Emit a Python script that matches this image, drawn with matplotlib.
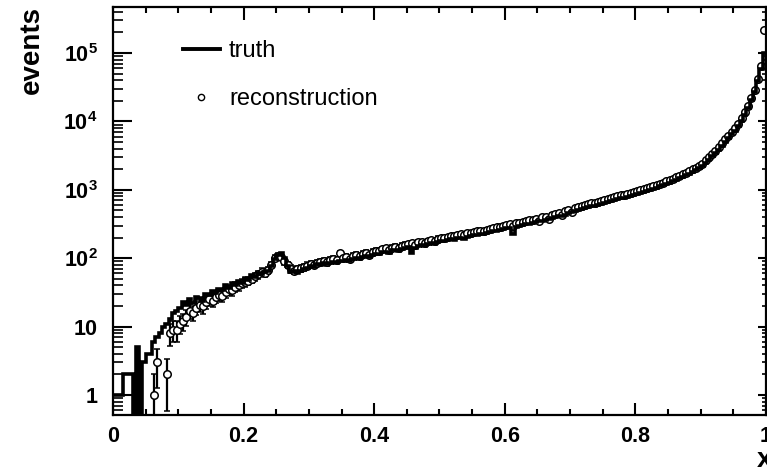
import numpy as np
import matplotlib
matplotlib.use('Agg')
import matplotlib.pyplot as plt
from matplotlib.lines import Line2D
from matplotlib.ticker import FixedLocator, MultipleLocator, LogLocator, NullFormatter

plt.rcParams['font.family'] = ['Liberation Sans', 'DejaVu Sans']
plt.rcParams['mathtext.fontset'] = 'custom'
plt.rcParams['mathtext.rm'] = 'Liberation Sans'
plt.rcParams['mathtext.bf'] = 'Liberation Sans:bold'

# 200 bins in x from 0 to 1
edges = np.linspace(0, 1, 201)

truth = [
    1, 1, 1, 2, 2, 2, 0, 5, 0, 3, 4, 4, 6, 7, 8, 10, 11, 13, 16, 17,
    19, 23, 21, 25, 22, 27, 26, 24, 30, 29, 33, 31, 36, 34, 40, 37, 43, 41, 46, 44,
    52, 48, 56, 53, 60, 58, 62, 64, 76, 96, 112, 118, 100, 78, 62, 66, 60, 64, 70, 72,
    78, 74, 82, 79, 86, 82, 85, 88, 86, 90, 92, 95, 90, 98, 101, 97, 105, 108, 104, 112,
    117, 114, 122, 125, 119, 130, 133, 128, 138, 142, 144, 118, 143, 153, 158, 152, 162, 167, 161, 175,
    180, 176, 185, 190, 186, 197, 200, 194, 206, 210, 215, 220, 226, 222, 235, 241, 246, 252, 258, 265,
    274, 279, 224, 288, 295, 302, 311, 318, 326, 335, 345, 354, 364, 374, 386, 397, 408, 420, 434, 452,
    470, 487, 505, 521, 539, 555, 573, 589, 607, 624, 643, 661, 681, 701, 724, 746, 770, 795, 822, 850,
    880, 909, 937, 966, 1003, 1039, 1079, 1117, 1164, 1211, 1268, 1325, 1391, 1466, 1542, 1627, 1721, 1825, 1939, 2062,
    2220, 2460, 2740, 3070, 3450, 3880, 4400, 5020, 5700, 6450, 7350, 8600, 10300, 12600, 15800, 20200, 27000, 38500, 58000, 100000,
]

reco = [
    0, 0, 0, 0, 0, 0, 0, 0, 0, 0, 0, 0, 1, 3, 0, 0, 2, 8, 9, 9,
    11, 12, 14, 17, 16, 19, 21, 20, 23, 25, 24, 27, 29, 28, 32, 35, 34, 38, 40, 43,
    45, 47, 50, 54, 58, 63, 61, 67, 80, 100, 108, 104, 90, 80, 70, 66, 69, 72, 74, 78,
    82, 80, 86, 88, 92, 87, 95, 98, 94, 118, 100, 104, 98, 108, 112, 106, 116, 120, 113, 124,
    128, 126, 135, 140, 132, 143, 147, 140, 153, 158, 160, 164, 158, 170, 174, 168, 180, 186, 178, 194,
    200, 196, 206, 212, 208, 220, 224, 216, 230, 236, 240, 246, 252, 248, 262, 270, 276, 282, 290, 296,
    305, 312, 300, 322, 330, 338, 346, 356, 364, 374, 350, 395, 406, 370, 430, 442, 455, 430, 485, 505,
    470, 540, 560, 580, 600, 615, 635, 650, 672, 690, 710, 730, 752, 775, 800, 825, 850, 878, 905, 935,
    965, 998, 1030, 1062, 1100, 1140, 1182, 1225, 1275, 1325, 1385, 1445, 1520, 1600, 1685, 1775, 1880, 1990, 2110, 2245,
    2420, 2680, 2980, 3340, 3750, 4220, 4780, 5450, 6200, 7000, 7950, 9300, 11200, 13700, 17000, 22000, 29000, 42000, 65000, 220000,
]

ytick_vals = [1, 10, 100, 1000, 10000, 100000]
ytick_labels = ['1', '10', r'$\mathbf{10^{2}}$', r'$\mathbf{10^{3}}$', r'$\mathbf{10^{4}}$', r'$\mathbf{10^{5}}$']
xtick_vals = [0, 0.2, 0.4, 0.6, 0.8, 1.0]
xtick_labels = ['0', '0.2', '0.4', '0.6', '0.8', '1']

truth = np.array(truth, dtype=float)
reco = np.array(reco, dtype=float)
centers = 0.5 * (edges[1:] + edges[:-1])

fig = plt.figure(figsize=(7.67, 4.68), dpi=100)
ax = fig.add_axes([113/767, 53/468, 653/767, 408/468])

m = reco > 0
ax.errorbar(centers[m], reco[m], yerr=np.sqrt(reco[m]), fmt='o', ms=5.4, mfc='white',
            mec='black', mew=1.1, ecolor='black', elinewidth=1.6, capsize=2, capthick=1.4, zorder=2)

# truth histogram on top, empty bins pushed below the axis
ax.stairs(np.where(truth > 0, truth, 1e-3), edges, color='black', lw=2.6, baseline=None, zorder=3)

ax.set_yscale('log')
ax.set_xlim(0, 1)
ax.set_ylim(0.51, 4.7e5)

ax.xaxis.set_major_locator(FixedLocator(xtick_vals))
ax.set_xticklabels(xtick_labels)
ax.xaxis.set_minor_locator(MultipleLocator(0.05))
ax.yaxis.set_major_locator(FixedLocator(ytick_vals))
ax.set_yticklabels(ytick_labels)
ax.yaxis.set_minor_locator(LogLocator(base=10, subs=np.arange(2, 10)))
ax.yaxis.set_minor_formatter(NullFormatter())

for lab in ax.get_xticklabels() + ax.get_yticklabels():
    lab.set_fontweight('bold')
    lab.set_fontsize(15.5)

ax.tick_params(axis='x', which='major', direction='in', length=9, width=1.5, top=True, pad=8)
ax.tick_params(axis='x', which='minor', direction='in', length=4.5, width=1.5, top=True)
ax.tick_params(axis='y', which='major', direction='in', length=14, width=1.5, pad=11)
ax.tick_params(axis='y', which='minor', direction='in', length=7, width=1.2)
for s in ax.spines.values():
    s.set_linewidth(1.6)

sec = ax.secondary_yaxis('right')
sec.yaxis.set_major_locator(FixedLocator(ytick_vals))
sec.yaxis.set_minor_locator(LogLocator(base=10, subs=np.arange(2, 10)))
sec.tick_params(which='major', direction='in', length=6, width=1.5, labelright=False)
sec.tick_params(which='minor', direction='in', length=3, width=1.2)
sec.yaxis.set_minor_formatter(NullFormatter())

handles = [Line2D([], [], color='black', lw=2.8),
           Line2D([], [], ls='none', marker='o', ms=4.5, mfc='white', mec='black', mew=1.0)]
ax.legend(handles, ['truth', 'reconstruction'], loc='upper left',
          bbox_to_anchor=(183/767, 1 - 40/468), bbox_transform=fig.transFigure,
          frameon=False, fontsize=17, handlelength=1.55, handletextpad=0.4,
          labelspacing=1.12, borderpad=0, borderaxespad=0)

fig.text(32/767, 1 - 6/468, 'events', rotation=90, ha='center', va='top',
         fontweight='bold', fontsize=20)
fig.text(757/767, 1 - 460/468, 'x', ha='left', va='center', fontweight='bold', fontsize=20)

fig.savefig('out.png', dpi=100)
